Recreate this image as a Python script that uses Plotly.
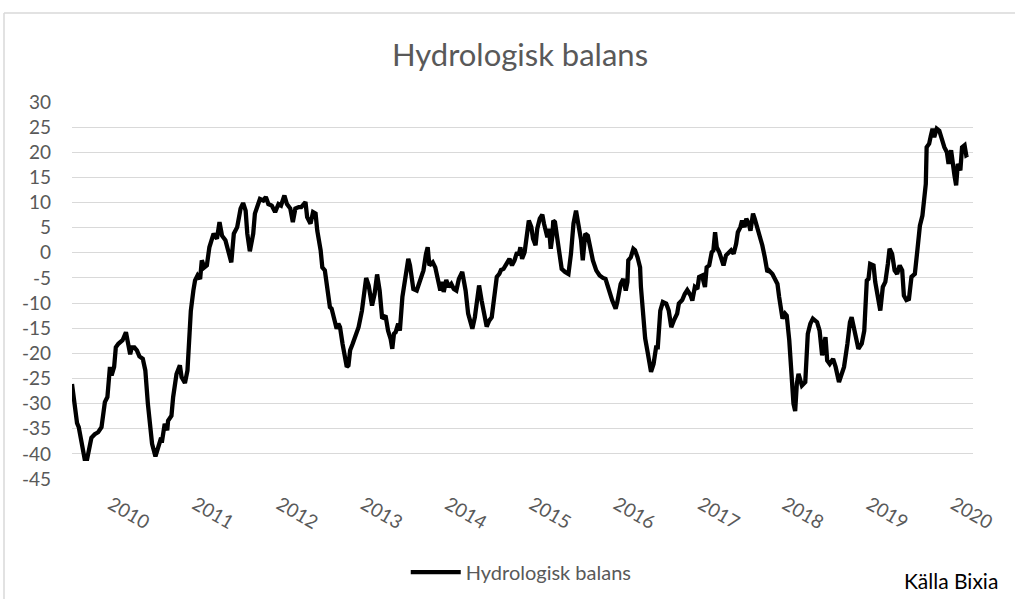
import plotly.graph_objects as go

years = [
    2009.31, 2009.37, 2009.39, 2009.46, 2009.49, 2009.54, 2009.58, 2009.62, 2009.66, 2009.68,
    2009.70, 2009.73, 2009.76, 2009.78, 2009.81, 2009.83, 2009.86, 2009.91, 2009.95, 2009.98,
    2010.00, 2010.02, 2010.05, 2010.08, 2010.11, 2010.15, 2010.18, 2010.21, 2010.24, 2010.26,
    2010.30, 2010.33, 2010.36, 2010.38, 2010.41, 2010.44, 2010.45, 2010.49, 2010.51, 2010.55,
    2010.59, 2010.61, 2010.65, 2010.68, 2010.70, 2010.72, 2010.75, 2010.77, 2010.80, 2010.83,
    2010.85, 2010.88, 2010.91, 2010.94, 2010.99, 2011.03, 2011.06, 2011.09, 2011.13, 2011.17,
    2011.20, 2011.23, 2011.27, 2011.31, 2011.34, 2011.37, 2011.39, 2011.42, 2011.46, 2011.48,
    2011.51, 2011.54, 2011.58, 2011.61, 2011.64, 2011.68, 2011.72, 2011.76, 2011.79, 2011.83,
    2011.86, 2011.90, 2011.93, 2011.96, 2012.00, 2012.03, 2012.08, 2012.10, 2012.14, 2012.17,
    2012.20, 2012.22, 2012.26, 2012.28, 2012.31, 2012.34, 2012.37, 2012.39, 2012.42, 2012.45,
    2012.47, 2012.49, 2012.52, 2012.55, 2012.57, 2012.59, 2012.61, 2012.64, 2012.68, 2012.71,
    2012.75, 2012.80, 2012.83, 2012.87, 2012.90, 2012.93, 2012.96, 2012.99, 2013.03, 2013.06,
    2013.09, 2013.11, 2013.13, 2013.15, 2013.18, 2013.20, 2013.23, 2013.26, 2013.30, 2013.32,
    2013.36, 2013.40, 2013.44, 2013.48, 2013.51, 2013.53, 2013.55, 2013.59, 2013.62, 2013.65,
    2013.68, 2013.70, 2013.72, 2013.75, 2013.78, 2013.81, 2013.84, 2013.87, 2013.90, 2013.94,
    2013.98, 2014.01, 2014.04, 2014.06, 2014.09, 2014.11, 2014.14, 2014.17, 2014.21, 2014.23,
    2014.26, 2014.29, 2014.32, 2014.35, 2014.38, 2014.40, 2014.43, 2014.47, 2014.50, 2014.53,
    2014.56, 2014.59, 2014.61, 2014.63, 2014.65, 2014.68, 2014.70, 2014.73, 2014.76, 2014.78,
    2014.81, 2014.83, 2014.86, 2014.89, 2014.91, 2014.95, 2014.97, 2014.99, 2015.01, 2015.02,
    2015.04, 2015.07, 2015.10, 2015.12, 2015.16, 2015.20, 2015.23, 2015.26, 2015.29, 2015.32,
    2015.35, 2015.37, 2015.40, 2015.43, 2015.46, 2015.49, 2015.53, 2015.57, 2015.61, 2015.64,
    2015.67, 2015.69, 2015.72, 2015.76, 2015.78, 2015.82, 2015.85, 2015.88, 2015.90, 2015.91,
    2015.94, 2015.97, 2015.99, 2016.02, 2016.05, 2016.06, 2016.09, 2016.11, 2016.14, 2016.18,
    2016.21, 2016.24, 2016.26, 2016.29, 2016.32, 2016.36, 2016.39, 2016.42, 2016.45, 2016.49,
    2016.51, 2016.55, 2016.58, 2016.61, 2016.65, 2016.67, 2016.70, 2016.73, 2016.75, 2016.79,
    2016.80, 2016.82, 2016.84, 2016.87, 2016.90, 2016.92, 2016.94, 2016.96, 2016.99, 2017.01,
    2017.04, 2017.07, 2017.10, 2017.13, 2017.16, 2017.19, 2017.21, 2017.24, 2017.26, 2017.29,
    2017.31, 2017.34, 2017.36, 2017.39, 2017.41, 2017.44, 2017.47, 2017.50, 2017.53, 2017.56,
    2017.58, 2017.62, 2017.65, 2017.68, 2017.70, 2017.72, 2017.74, 2017.77, 2017.79, 2017.82,
    2017.85, 2017.87, 2017.89, 2017.91, 2017.93, 2017.97, 2018.01, 2018.04, 2018.07, 2018.10,
    2018.15, 2018.18, 2018.21, 2018.25, 2018.27, 2018.30, 2018.34, 2018.37, 2018.41, 2018.44,
    2018.47, 2018.51, 2018.54, 2018.56, 2018.58, 2018.62, 2018.64, 2018.68, 2018.71, 2018.74,
    2018.76, 2018.78, 2018.82, 2018.84, 2018.87, 2018.90, 2018.93, 2018.96, 2018.99, 2019.01,
    2019.04, 2019.07, 2019.10, 2019.13, 2019.16, 2019.18, 2019.21, 2019.24, 2019.27, 2019.31,
    2019.34, 2019.37, 2019.40, 2019.42, 2019.44, 2019.45, 2019.48, 2019.50, 2019.52, 2019.54,
    2019.57, 2019.60, 2019.63, 2019.66, 2019.69, 2019.71, 2019.74, 2019.76, 2019.78, 2019.80,
    2019.82, 2019.85, 2019.87, 2019.90, 2019.92, 2019.94,
]

balance = [
    -26.1, -33.9, -34.7, -41.0, -41.0, -36.8, -36.1, -35.7, -34.7, -32.7,
    -29.7, -28.7, -22.7, -24.4, -22.7, -18.8, -18.1, -17.4, -15.8, -18.4,
    -20.2, -18.8, -18.8, -19.4, -20.6, -21.1, -23.4, -30.0, -34.0, -38.0,
    -40.5, -38.7, -37.2, -37.3, -34.0, -35.3, -33.4, -32.4, -28.7, -24.1,
    -22.4, -24.7, -25.9, -23.4, -18.1, -11.5, -7.5, -5.5, -4.5, -5.2,
    -1.5, -2.9, -2.5, 1.1, 3.8, 2.8, 6.1, 3.4, 2.5, -0.2,
    -1.9, 3.8, 5.1, 8.8, 9.9, 8.4, 3.8, 0.3, 3.8, 7.8,
    9.4, 10.7, 10.4, 11.1, 9.7, 9.4, 8.1, 9.7, 9.4, 11.4,
    9.7, 8.8, 6.1, 8.8, 9.1, 9.1, 10.1, 7.1, 5.8, 8.1,
    7.8, 4.4, 0.5, -2.9, -3.5, -7.5, -10.8, -11.1, -13.5, -15.1,
    -14.1, -14.8, -18.1, -20.8, -22.7, -22.4, -19.4, -18.1, -16.4, -14.8,
    -11.5, -5.0, -6.5, -10.5, -8.2, -4.3, -7.5, -13.1, -12.5, -15.5,
    -17.1, -19.1, -16.1, -15.8, -14.1, -15.5, -8.8, -5.8, -1.2, -2.5,
    -7.2, -7.5, -5.2, -3.5, -0.2, 1.1, -2.5, -1.9, -2.9, -5.5,
    -7.5, -5.8, -7.8, -5.4, -6.8, -6.2, -7.2, -7.5, -5.2, -3.8,
    -7.5, -12.1, -14.1, -15.1, -12.8, -9.5, -6.5, -9.5, -13.5, -14.7,
    -13.5, -12.8, -8.8, -4.8, -4.2, -3.4, -3.2, -2.2, -1.2, -2.5,
    -1.5, 0.1, -0.5, 1.1, -1.2, 0.1, 2.5, 6.4, 5.1, 2.8,
    1.5, 4.8, 6.8, 7.6, 5.8, 3.1, 4.8, 0.8, 3.4, 6.4,
    6.1, 2.8, -0.9, -3.2, -3.8, -4.2, -0.2, 5.8, 8.4, 5.8,
    2.5, -1.5, 3.8, 3.4, 1.1, -1.5, -3.5, -4.5, -5.0, -5.2,
    -6.8, -8.2, -9.5, -11.1, -9.8, -6.2, -5.2, -7.5, -5.8, -1.5,
    -0.9, 0.8, 0.5, -0.9, -2.9, -6.8, -14.1, -17.0, -19.8, -23.7,
    -22.1, -18.8, -18.8, -11.5, -9.8, -10.1, -11.5, -14.8, -13.5, -12.1,
    -10.1, -9.4, -8.2, -7.4, -8.5, -9.5, -6.8, -7.2, -4.8, -4.5,
    -5.5, -6.8, -2.9, -2.5, 0.1, 0.5, 4.1, 1.1, 0.1, -1.2,
    -2.5, -0.5, 0.1, 0.5, -0.2, 1.8, 4.1, 5.1, 6.4, 5.1,
    6.8, 5.8, 4.4, 7.8, 6.8, 5.1, 3.4, 1.5, -0.9, -3.8,
    -3.5, -4.2, -5.2, -6.2, -8.8, -11.8, -13.1, -12.1, -12.5, -17.4,
    -24.7, -30.0, -31.5, -26.0, -24.1, -26.4, -25.7, -16.1, -14.1, -13.1,
    -13.8, -15.5, -20.4, -16.8, -21.4, -22.1, -21.1, -22.7, -25.7, -24.1,
    -22.7, -18.1, -13.8, -12.8, -14.5, -17.4, -19.1, -18.1, -15.5, -5.5,
    -5.2, -2.2, -2.5, -5.8, -8.8, -11.5, -6.8, -5.8, -2.2, 0.8,
    -0.2, -3.5, -4.2, -2.5, -3.5, -8.5, -9.4, -9.2, -4.8, -4.2,
    0.5, 5.4, 7.4, 11.1, 13.7, 21.0, 21.7, 23.3, 24.7, 23.0,
    24.7, 24.3, 22.3, 21.0, 20.0, 17.7, 20.4, 17.0, 15.4, 13.4,
    17.7, 16.4, 21.0, 21.4, 19.4, 19.6,
]

x_tick_vals = [2010, 2011, 2012, 2013, 2014, 2015, 2016, 2017, 2018, 2019, 2020]
x_tick_text = ["2010", "2011", "2012", "2013", "2014", "2015", "2016", "2017", "2018", "2019", "2020"]
y_tick_vals = [30, 25, 20, 15, 10, 5, 0, -5, -10, -15, -20, -25, -30, -35, -40, -45]
y_tick_text = ["30", "25", "20", "15", "10", "5", "0", "-5", "-10", "-15", "-20", "-25", "-30", "-35", "-40", "-45"]

series_name = "Hydrologisk balans"
title_text = "Hydrologisk balans"
source_text = "Källa Bixia"

assert len(years) == len(balance)

FONT = "Lato, 'Open Sans', sans-serif"
GREY = "#595959"

fig = go.Figure()
fig.add_trace(go.Scatter(
    x=years, y=balance, mode="lines", name=series_name,
    line=dict(color="#000000", width=4.3),
))

fig.update_layout(
    width=1015, height=599,
    margin=dict(l=72, r=42, t=102, b=120, autoexpand=False),
    paper_bgcolor="white", plot_bgcolor="white",
    title=dict(text=title_text, x=520 / 1015, y=1 - 55 / 599,
               xref="container", yref="container",
               xanchor="center", yanchor="middle",
               font=dict(family=FONT, size=31, color=GREY)),
    showlegend=True,
    legend=dict(orientation="h", x=0.4986, y=-0.247, xanchor="center", yanchor="middle",
                itemwidth=50,
                font=dict(family=FONT, size=20, color=GREY), bgcolor="rgba(0,0,0,0)"),
    xaxis=dict(range=[2009.31, 2020.0], tickmode="array", tickvals=x_tick_vals, ticktext=x_tick_text,
               tickangle=30, showgrid=False, zeroline=False, showline=False, ticks="",
               tickfont=dict(family=FONT, size=19, color=GREY),
               ticklabelshift=-19, ticklabelstandoff=10, automargin=False),
    yaxis=dict(range=[-45, 30], tickmode="array", tickvals=y_tick_vals, ticktext=y_tick_text,
               showgrid=True, gridcolor="#d9d9d9", gridwidth=1.3, zeroline=False, showline=False,
               ticks="", tickfont=dict(family=FONT, size=19, color=GREY),
               ticklabelstandoff=20, automargin=False),
    annotations=[dict(text=source_text, x=(1000 - 72) / 901, y=(479 - 580) / 377,
                      xref="paper", yref="paper", xanchor="right", yanchor="middle",
                      showarrow=False, font=dict(family=FONT, size=21, color="#000000"))],
    shapes=[
        dict(type="line", xref="paper", yref="paper", x0=(4 - 72) / 901, x1=(4 - 72) / 901,
             y0=(479 - 13) / 377, y1=(479 - 600) / 377, line=dict(color="#d9d9d9", width=1.5)),
        dict(type="line", xref="paper", yref="paper", x0=(4 - 72) / 901, x1=(1016 - 72) / 901,
             y0=(479 - 13) / 377, y1=(479 - 13) / 377, line=dict(color="#d9d9d9", width=1.5)),
    ],
)

fig.write_html("out.html", config={"displayModeBar": False},
               post_script="document.body.style.margin='0';document.body.style.overflow='hidden';")
